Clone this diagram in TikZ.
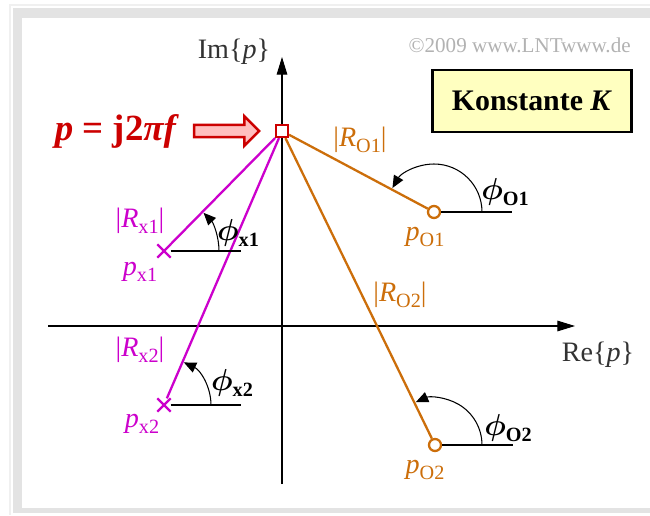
\documentclass[tikz,border=0pt]{standalone}
\usepackage{amsmath}
\usepackage{fontspec}
\setmainfont{Liberation Serif}
\usetikzlibrary{shapes.misc, shapes.arrows, arrows.meta, positioning}
\definecolor{polemag}{RGB}{204,0,204}
\definecolor{zeroorg}{RGB}{204,110,10}
\definecolor{freqred}{RGB}{204,0,0}
\definecolor{freqpink}{RGB}{255,190,190}
\definecolor{boxyellow}{RGB}{255,255,192}
\newcommand\lowtxt[1]{\raisebox{-0.45ex}{\fontsize{11.5}{12}\selectfont #1}}
\tikzset{
	pole/.style={
		cross out,
		draw=polemag,
		line width=1.3pt,
		minimum size=0.22cm,
		inner sep=0pt
	},
	zero/.style={
		circle,
		draw=zeroorg,
		fill=white,
		line width=1.3pt,
		minimum size=0.24cm,
		inner sep=0pt
	},
	testpt/.style={
		rectangle,
		draw=freqred,
		fill=white,
		line width=1.2pt,
		minimum size=0.24cm,
		inner sep=0pt
	},
	axis/.style={
		-{Triangle[length=10pt,width=6pt]},
		line width=0.6pt
	},
	polearm/.style={draw=polemag, line width=1.3pt},
	zeroarm/.style={draw=zeroorg, line width=1.3pt},
	anglearc/.style={
		-{Triangle[length=7pt,width=6pt]},
		line width=0.6pt
	},
	lbl/.style={font=\fontsize{16}{18}\selectfont, inner sep=1pt}
}

\begin{document}
\begin{tikzpicture}[x=0.02cm, y=0.02cm]
		
		\useasboundingbox (0,0) rectangle (650,515);
		
		% frame
		\fill[gray!22] (13,2) rectangle (650,507);
		\fill[white] (22,7) rectangle (650,497);
		\draw[gray!12, line width=0.6pt] (10,0) -- (10,510) -- (650,510);
		
		% axes
		\coordinate (xleft)   at (48,189);
		\coordinate (xright)  at (575,189);
		\coordinate (ybottom) at (282,31);
		\coordinate (ytop)    at (282,458);
		\draw [axis] (xleft) -- (xright);
		\draw [axis] (ybottom) -- (ytop);
		
		% nodes
		\node (sq)  [testpt] at (282,384) {};
		\node (pO1) [zero]   at (434,303) {};
		\node (pO2) [zero]   at (435,70)  {};
		\node (px1) [pole]   at (164,264) {};
		\node (px2) [pole]   at (164,110) {};
		
		% distances
		\draw [zeroarm] (sq) -- (pO1);
		\draw [zeroarm] (sq) -- (pO2);
		\draw [polearm] (sq) -- (px1);
		\draw [polearm] (sq) -- (px2);
		\node [testpt] at (sq) {};
		
		% angles
		\draw [line width=0.6pt] (pO1) -- ++(78,0);
		\draw [line width=0.6pt] (pO2) -- ++(78,0);
		\draw [line width=0.6pt] (px1) -- ++(77,0);
		\draw [line width=0.6pt] (px2) -- ++(77,0);
		\draw [anglearc] (pO1.center) ++(48,0) arc[start angle=0, end angle=150, radius=0.96cm];
		\draw [anglearc] (pO2.center) ++(47,0) arc[start angle=0, end angle=114, radius=0.94cm];
		\draw [anglearc] (px1.center) ++(55,0) arc[start angle=0, end angle=44, radius=1.1cm];
		\draw [anglearc] (px2.center) ++(47,0) arc[start angle=0, end angle=65, radius=0.94cm];
		
		% input frequency
		\node (inarrow) [single arrow, draw=freqred, fill=freqpink, line width=1.4pt,
			minimum height=1.3cm, single arrow head extend=5pt, inner sep=2.8pt,
			left=0.28cm of sq] {};
		\node (freq) [left=0.3cm of inarrow, text=freqred, inner sep=1pt,
			font=\fontsize{21}{24}\selectfont\bfseries\itshape] {p {\upshape =} {\upshape j2}πf};
		
		% box and copyright
		\node (konst) [draw, line width=1.5pt, fill=boxyellow, minimum width=3.98cm,
			minimum height=1.24cm, font=\fontsize{17}{20}\selectfont\bfseries] at (532,414) {Konstante \textit{K}};
		\node (copy) [anchor=east, text=gray!60, font=\fontsize{12}{14}\selectfont, inner sep=0pt] at (631,470) {©2009 www.LNTwww.de};
		
		% axis labels
		\node (imlbl) [lbl, text=black!80] at (234,463) {Im\{\textit{p}\}};
		\node (relbl) [lbl, text=black!80] at (598,160) {Re\{\textit{p}\}};
		
		% distance labels
		\node (rO1) [lbl, text=zeroorg] at (360,375) {|\textit{R}\lowtxt{O1}|};
		\node (rO2) [lbl, text=zeroorg] at (400,220) {|\textit{R}\lowtxt{O2}|};
		\node (rx1) [lbl, text=polemag] at (140,294) {|\textit{R}\lowtxt{x1}|};
		\node (rx2) [lbl, text=polemag] at (140,165) {|\textit{R}\lowtxt{x2}|};
		
		% point labels
		\node (lO1) [lbl, text=zeroorg] at (425,278) {\textit{p}\lowtxt{O1}};
		\node (lO2) [lbl, text=zeroorg] at (425,45)  {\textit{p}\lowtxt{O2}};
		\node (lx1) [lbl, text=polemag] at (140,243) {\textit{p}\lowtxt{x1}};
		\node (lx2) [lbl, text=polemag] at (142,91)  {\textit{p}\lowtxt{x2}};
		
		% angle labels
		\node (aO1) [lbl] at (505,323) {$\boldsymbol{\phi}$\lowtxt{\textbf{O1}}};
		\node (aO2) [lbl] at (508,87)  {$\boldsymbol{\phi}$\lowtxt{\textbf{O2}}};
		\node (ax1) [lbl] at (238,282) {$\boldsymbol{\phi}$\lowtxt{\textbf{x1}}};
		\node (ax2) [lbl] at (232,132) {$\boldsymbol{\phi}$\lowtxt{\textbf{x2}}};
		
	\end{tikzpicture}
\end{document}
